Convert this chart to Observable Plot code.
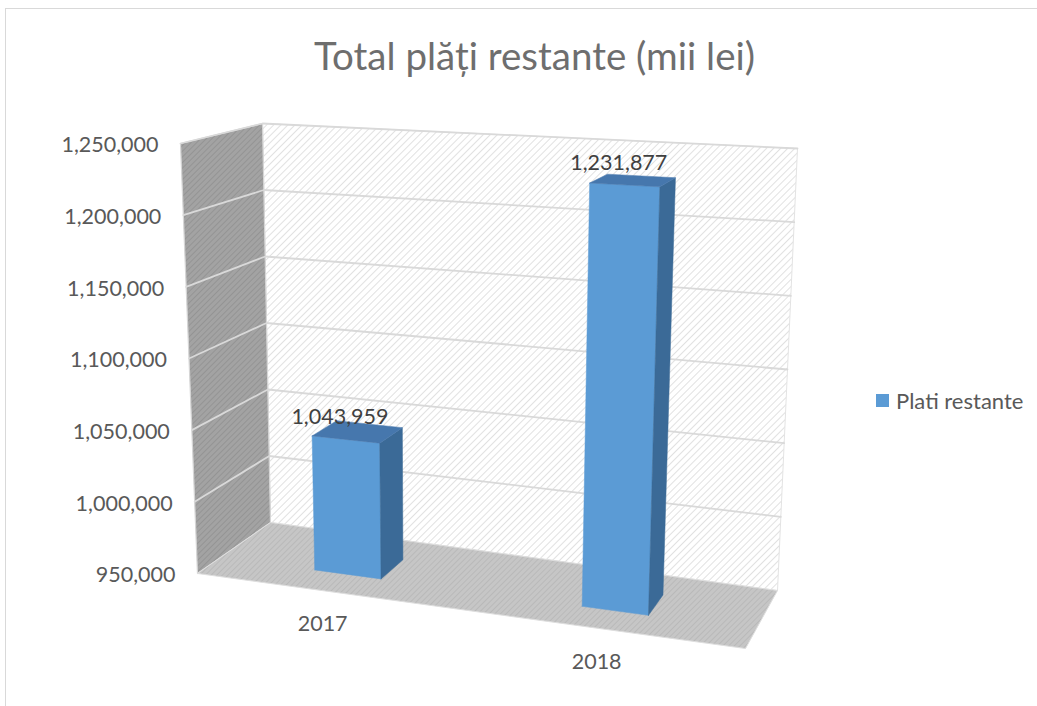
<!DOCTYPE html>
<html>
<head>
<meta charset="utf-8">
<script src="https://cdn.jsdelivr.net/npm/d3@7"></script>
<script src="https://cdn.jsdelivr.net/npm/@observablehq/plot@0.6"></script>
<style>
  body { margin: 0; background: #ffffff; }
  #wrap { position: relative; width: 1037px; height: 706px; overflow: hidden; font-family: Lato, "Noto Sans", sans-serif; }
  #frame { position: absolute; left: 5px; top: 8px; width: 1100px; height: 800px; border: 1px solid #d9d9d9; box-sizing: border-box; }
  #title { position: absolute; left: 0; top: 35px; width: 1069px; text-align: center; font-size: 38.5px; line-height: 40px; font-weight: 400; color: #6e6e6e; white-space: nowrap; }
  #chart { position: absolute; left: 0; top: 100px; }
  #legend { position: absolute; left: 876px; top: 388px; height: 24px; display: flex; align-items: center; font-size: 22px; color: #595959; white-space: nowrap; }
  #legend .sw { width: 13px; height: 13px; background: #5b9bd5; margin-right: 7px; }
</style>
</head>
<body>
<div id="wrap">
  <div id="frame"></div>
  <div id="title"></div>
  <div id="chart"></div>
  <div id="legend"><div class="sw"></div><span id="legtext"></span></div>
</div>
<script>
// ---- data ----
const chartTitle = "Total plăți restante (mii lei)";
const seriesName = "Plati restante";
const categories = ["2017", "2018"];
const values = [1043959, 1231877];
const yTicks = [950000, 1000000, 1050000, 1100000, 1150000, 1200000, 1250000];

document.getElementById("title").textContent = chartTitle;
document.getElementById("legtext").textContent = seriesName;

// ---- layout of the 3D box (page pixels) ----
const TOP = 100;                 // svg top offset in page
const XL = 197, XR = 745;        // front floor edge ends (u = 0..1)
const YB = 573, YT = 143;        // front-left edge bottom/top (value min..max)
const yMin = yTicks[0], yMax = yTicks[yTicks.length - 1];
const vOf = d => (d - yMin) / (yMax - yMin);

// approximate perspective: u along categories, v along values, w depth
function screen(u, v, w) {
  const X0 = 197 + 548 * u + 73 * w - 41 * u * w;
  const Y0 = 573 + 75 * u - 51 * w - 7 * u * w;
  const H = 430 + 46 * u - 31 * w - 3 * u * w;
  const DX = -17 + 35 * u + 9 * w - 7 * u * w;
  return [X0 + v * DX, Y0 - v * H];
}
// convert to the data units of the Plot scales
function proj(u, v, w) {
  const [X, Y] = screen(u, v, w);
  return { x: (X - XL) / (XR - XL), y: yMin + (YB - Y) / (YB - YT) * (yMax - yMin) };
}
function poly(id, pts) {
  const ring = pts.concat([pts[0]]);
  return ring.map(([u, v, w]) => ({ id, ...proj(u, v, w) }));
}

const n = categories.length;
const uCenter = i => (i + 0.475) / n;
const halfW = 0.062, w0 = 0.32, w1 = 0.68;

const backWall = poly("back", [[0, 0, 1], [1, 0, 1], [1, 1, 1], [0, 1, 1]]);
const leftWall = poly("left", [[0, 0, 0], [0, 0, 1], [0, 1, 1], [0, 1, 0]]);
const floor = poly("floor", [[0, 0, 0], [1, 0, 0], [1, 0, 1], [0, 0, 1]]);

const grid = yTicks.slice(1).flatMap(t => {
  const v = vOf(t);
  return [[0, v, 0], [0, v, 1], [1, v, 1]].map(([u, vv, w]) => ({ t, ...proj(u, vv, w) }));
});

const fronts = [], sides = [], tops = [];
values.forEach((val, i) => {
  const v = vOf(val), u0 = uCenter(i) - halfW, u1 = uCenter(i) + halfW;
  fronts.push(...poly(i, [[u0, 0, w0], [u1, 0, w0], [u1, v, w0], [u0, v, w0]]));
  sides.push(...poly(i, [[u1, 0, w0], [u1, 0, w1], [u1, v, w1], [u1, v, w0]]));
  tops.push(...poly(i, [[u0, v, w0], [u1, v, w0], [u1, v, w1], [u0, v, w1]]));
});

const fmt = d3.format(",");
const valueRows = values.map((val, i) => ({ i, val, ...proj(uCenter(i), vOf(val), w0) }));
const catRows = categories.map((c, i) => ({ c, ...proj(uCenter(i), 0, 0) }));
const tickRows = yTicks.map(t => ({ t, ...proj(0, vOf(t), 0) }));

const plot = Plot.plot({
  width: 1037,
  height: 606,
  margin: 0,
  x: { domain: [0, 1], range: [XL, XR], axis: null },
  y: { domain: [yMin, yMax], range: [YB - TOP, YT - TOP], axis: null },
  style: { fontFamily: "Lato, 'Noto Sans', sans-serif", background: "transparent", overflow: "visible" },
  marks: [
    Plot.line(backWall, { x: "x", y: "y", z: "id", fill: "url(#hBack)", stroke: "#e3e3e3", strokeWidth: 1 }),
    Plot.line(leftWall, { x: "x", y: "y", z: "id", fill: "url(#hLeft)", stroke: "#d6d6d6", strokeWidth: 1.2 }),
    Plot.line(floor, { x: "x", y: "y", z: "id", fill: "url(#hFloor)", stroke: "#dedede", strokeWidth: 1 }),
    Plot.line(grid, { x: "x", y: "y", z: "t", stroke: "#d9d9d9", strokeWidth: 1.8 }),
    Plot.line(fronts, { x: "x", y: "y", z: "id", fill: "#5b9bd5", stroke: "#5b9bd5", strokeWidth: 0.5 }),
    Plot.line(sides, { x: "x", y: "y", z: "id", fill: "#3b6a97", stroke: "#3b6a97", strokeWidth: 0.5 }),
    Plot.line(tops, { x: "x", y: "y", z: "id", fill: "#4677ad", stroke: "#4677ad", strokeWidth: 0.5 }),
    Plot.text(tickRows, { x: "x", y: "y", text: d => fmt(d.t), textAnchor: "end", dx: -22, dy: 2, fontSize: 21.5, fill: "#595959" }),
    Plot.text(catRows, { x: "x", y: "y", text: "c", dx: -5, dy: 33, fontSize: 21.5, fill: "#595959" }),
    Plot.text(valueRows, { x: "x", y: "y", text: d => fmt(d.val), dx: -6, dy: -22, fontSize: 21.5, fill: "#404040" })
  ]
});

// hatch patterns
const defs = d3.select(plot).insert("defs", ":first-child");
function hatch(id, bg, fg, size, sw) {
  const p = defs.append("pattern").attr("id", id).attr("width", size).attr("height", size)
    .attr("patternUnits", "userSpaceOnUse").attr("patternTransform", "rotate(45)");
  p.append("rect").attr("width", size).attr("height", size).attr("fill", bg);
  p.append("line").attr("x1", 0).attr("y1", 0).attr("x2", 0).attr("y2", size)
    .attr("stroke", fg).attr("stroke-width", sw);
}
hatch("hBack", "#ffffff", "#d4d4d4", 5, 1.4);
hatch("hLeft", "#a3a3a3", "#8a8a8a", 4, 1.2);
hatch("hFloor", "#c6c6c6", "#b0b0b0", 4, 1.2);

document.getElementById("chart").appendChild(plot);
</script>
</body>
</html>
